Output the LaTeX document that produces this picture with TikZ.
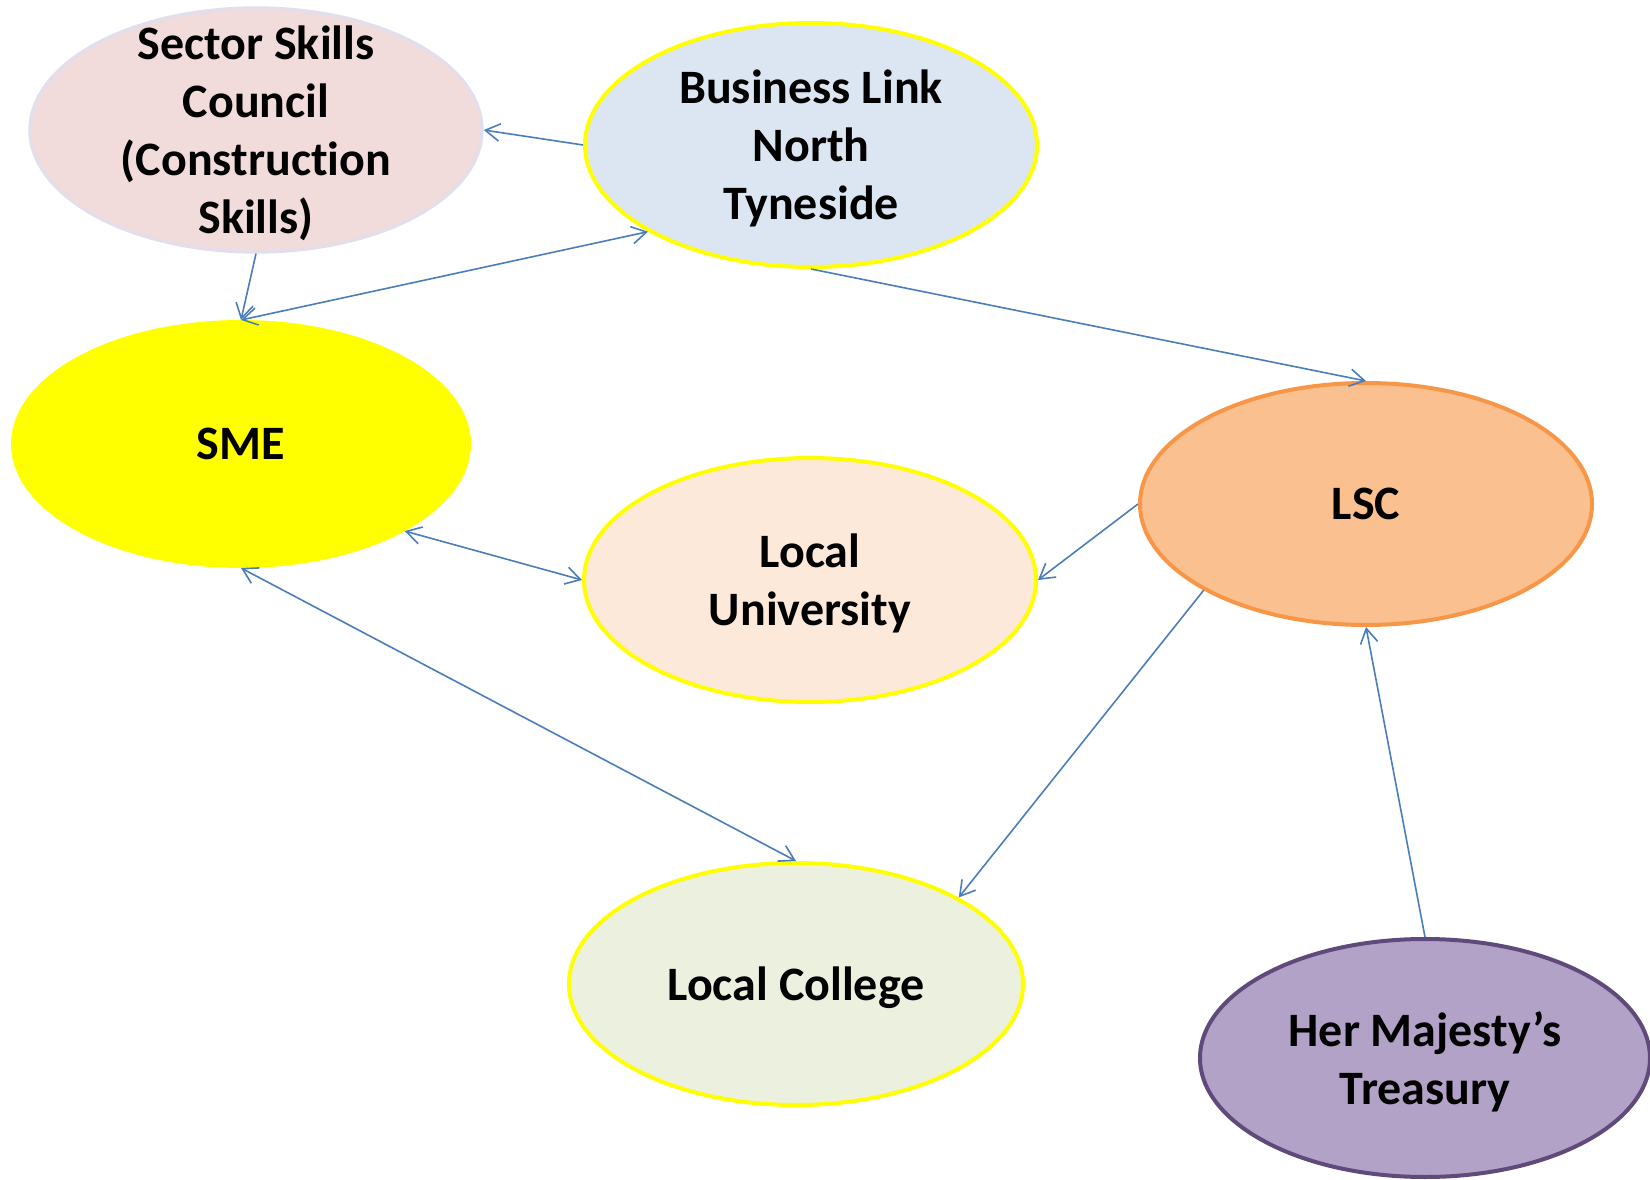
\documentclass[tikz,border=0pt]{standalone}
\usepackage{fontspec}
\setmainfont{Carlito}[Ligatures=NoCommon]
\usetikzlibrary{shapes.geometric,arrows.meta}

\tikzset{every picture/.style={line width=0.75pt}}
\tikzset{
  orgnode/.style={ellipse, line width=3pt, inner xsep=0pt, inner ysep=-26pt, align=center,
    font=\fontsize{36}{43.5}\selectfont\bfseries, text depth=0pt},
  link/.style={draw={rgb, 255:red, 74; green, 126; blue, 187 }, line width=1.2pt,
    -{Straight Barb[length=11pt,width=13pt]}},
  twoway/.style={link, {Straight Barb[length=11pt,width=13pt]}-{Straight Barb[length=11pt,width=13pt]}},
}

\begin{document}
\begin{tikzpicture}[x=0.75pt,y=0.75pt,yscale=-1,xscale=1]
\useasboundingbox (0,0) rectangle (1650,1180);

%Shape: Ellipse [Sector Skills Council]
\node [orgnode, minimum width=339pt, minimum height=183pt, line width=2.5pt,
  draw={rgb, 255:red, 227; green, 222; blue, 236 }, fill={rgb, 255:red, 242; green, 220; blue, 219 }]
  (ssc) at (256,130) {Sector Skills\\Council\\(Construction\\Skills)};
%Shape: Ellipse [Business Link]
\node [orgnode, minimum width=339pt, minimum height=183pt,
  draw={rgb, 255:red, 255; green, 255; blue, 0 }, fill={rgb, 255:red, 220; green, 230; blue, 242 }]
  (bl) at (811,145) {Business Link\\North\\Tyneside};
%Shape: Ellipse [SME]
\node [orgnode, minimum width=342pt, minimum height=183pt,
  draw={rgb, 255:red, 255; green, 255; blue, 0 }, fill={rgb, 255:red, 255; green, 255; blue, 0 }]
  (sme) at (241,444) {SME};
%Shape: Ellipse [Local University]
\node [orgnode, minimum width=339pt, minimum height=183pt,
  draw={rgb, 255:red, 255; green, 255; blue, 0 }, fill={rgb, 255:red, 253; green, 233; blue, 217 }]
  (lu) at (810,580) {Local\\University};
%Shape: Ellipse [LSC]
\node [orgnode, minimum width=339pt, minimum height=181.5pt,
  draw={rgb, 255:red, 247; green, 150; blue, 70 }, fill={rgb, 255:red, 250; green, 192; blue, 144 }]
  (lsc) at (1366,504) {LSC};
%Shape: Ellipse [Local College]
\node [orgnode, minimum width=340.5pt, minimum height=181.5pt,
  draw={rgb, 255:red, 255; green, 255; blue, 0 }, fill={rgb, 255:red, 235; green, 241; blue, 222 }]
  (lc) at (796,984) {Local College};
%Shape: Ellipse [Treasury]
\node [orgnode, minimum width=337.5pt, minimum height=178.5pt,
  draw={rgb, 255:red, 96; green, 74; blue, 123 }, fill={rgb, 255:red, 179; green, 162; blue, 199 }]
  (hmt) at (1425,1058) {Her Majesty’s\\Treasury};

%Straight Lines
\draw [link] (bl.west) -- (ssc.east);
\draw [link] (ssc.south) -- (sme.north);
\draw [twoway] (sme.north) -- (bl.-152);
\draw [link] (bl.south) -- (lsc.north);
%Straight Lines
\draw [twoway] (sme.-28) -- (lu.west);
\draw [twoway] (sme.south) -- (lc.north);
\draw [link] (lsc.west) -- (lu.east);
\draw [link] (lsc.-152) -- (lc.28);
\draw [link] (hmt.north) -- (lsc.south);

\end{tikzpicture}
\end{document}
